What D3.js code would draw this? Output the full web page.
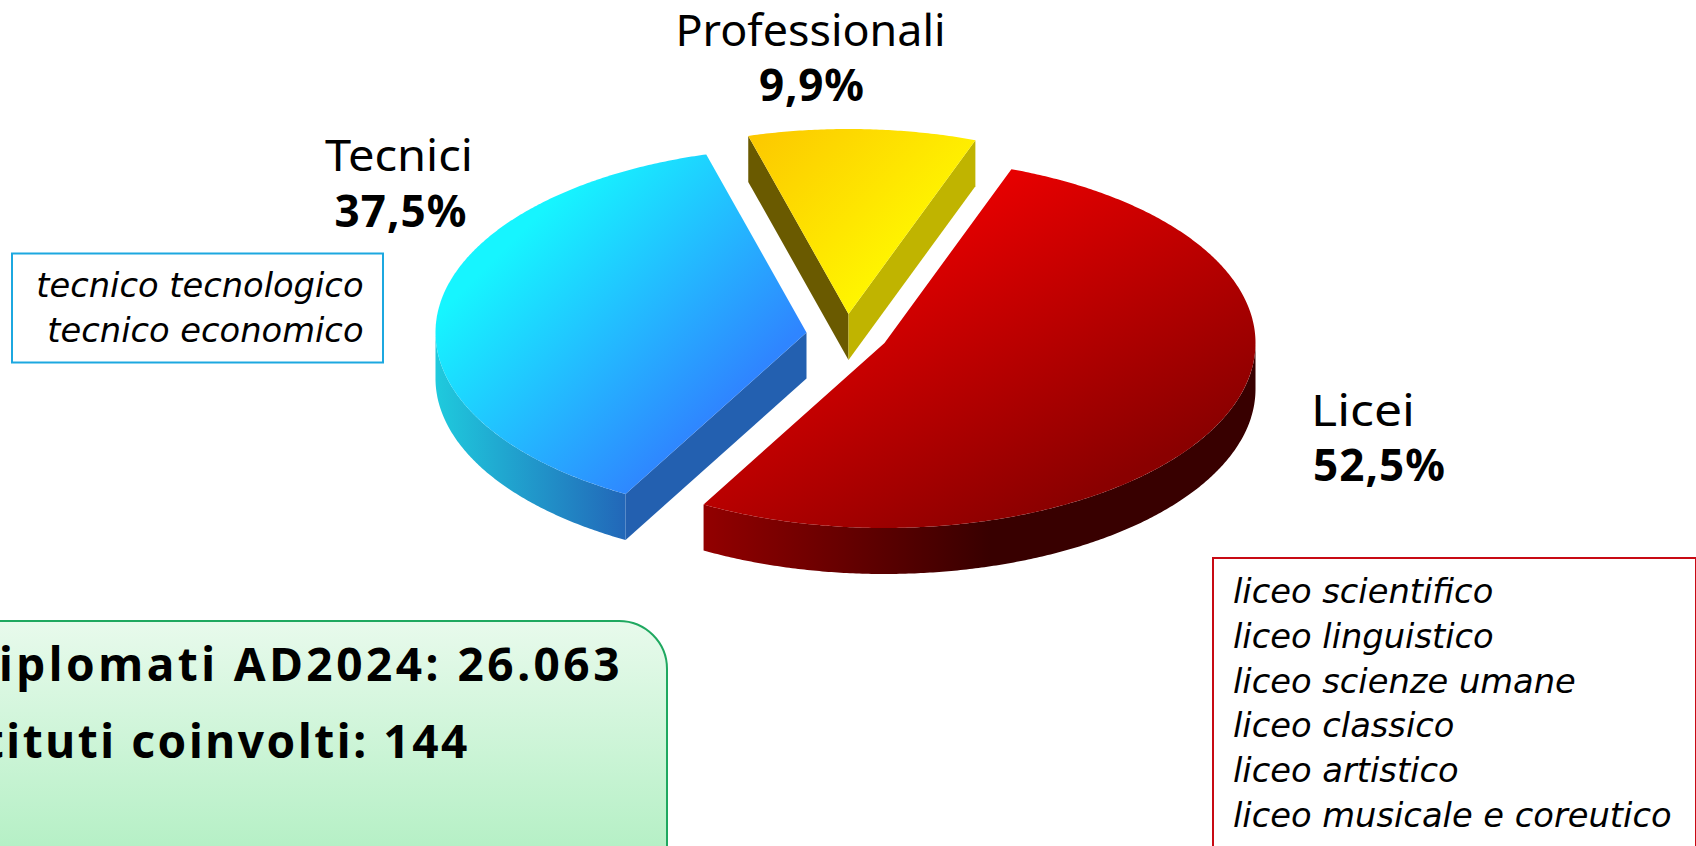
<!DOCTYPE html>
<html><head><meta charset="utf-8">
<script src="https://cdn.jsdelivr.net/npm/d3@7/dist/d3.min.js"></script>
<style>html,body{margin:0;padding:0;background:#fff;overflow:hidden}svg{display:block}</style>
</head><body><svg id="c" width="1696" height="846"></svg>
<script>
const categories = ["Licei","Tecnici","Professionali"];
const shares = [52.5,37.5,9.9];
const shareLabels = ["52,5%","37,5%","9,9%"];
const tecnicoItems = ["tecnico tecnologico","tecnico economico"];
const liceoItems = ["liceo scientifico","liceo linguistico","liceo scienze umane","liceo classico","liceo artistico","liceo musicale e coreutico"];
const infoLines = ["Diplomati AD2024: 26.063","Istituti coinvolti: 144"];

const svg = d3.select("#c");
const defs = svg.append("defs");
const FONT = "'Noto Sans','Open Sans',sans-serif";
const ITAL = "'DejaVu Sans','Noto Sans',sans-serif";

function grad(id, p, stops){
  const g = defs.append("linearGradient").attr("id",id).attr("gradientUnits","userSpaceOnUse")
    .attr("x1",p[0]).attr("y1",p[1]).attr("x2",p[2]).attr("y2",p[3]);
  stops.forEach(s=>g.append("stop").attr("offset",s[0]).attr("stop-color",s[1]));
}
grad("topR",[900,200,1055,510],[[0,"#ee0000"],[1,"#8a0000"]]);
grad("topB",[450,270,655,475],[[0.08,"#16f5ff"],[1,"#2f85ff"]]);
grad("topY",[750,136,890,275],[[0,"#fcc800"],[1,"#fff600"]]);
grad("sideR",[705,0,990,0],[[0,"#920000"],[1,"#380000"]]);
grad("sideB",[436,0,627,0],[[0,"#1fcadd"],[1,"#2266b8"]]);
grad("boxG",[0,621,0,846],[[0,"#e8faec"],[1,"#b6f0c6"]]);

// layout of the exploded pie
const rx = 371, ry = 185, depth = 46;
const centres = [[884.5,343],[806.5,332.5],[848.5,314]];
const topFill = ["url(#topR)","url(#topB)","url(#topY)"];
const sideFill = ["url(#sideR)","url(#sideB)",null];

const pie = d3.pie().sort(null).startAngle(20*Math.PI/180).endAngle(380*Math.PI/180);
const arcs = pie(shares);
const line = d3.line();
const pt = (c,a,dy=0)=>[c[0]+rx*Math.sin(a), c[1]-ry*Math.cos(a)+dy];
const sample = (a0,a1)=>{const n=Math.max(2,Math.ceil((a1-a0)*120));return d3.range(n+1).map(i=>a0+(a1-a0)*i/n);};

// walls seen from the front: [at slice start, at slice end]
const walls = [[null,null],["#2360b0",null],["#6a5a00","#c0b400"]];

[2,1,0].forEach(i=>{
  const d = arcs[i], c = centres[i], a0=d.startAngle, a1=d.endAngle;
  const wall = (a,fill)=>{ if(!fill) return;
    svg.append("path").attr("fill",fill)
      .attr("d",line([c,pt(c,a),pt(c,a,depth),[c[0],c[1]+depth]])+"Z");
  };
  wall(a0,walls[i][0]);
  wall(a1,walls[i][1]);
  // outer rim (only the front half of the ellipse shows)
  const lo=Math.max(a0,Math.PI/2), hi=Math.min(a1,3*Math.PI/2);
  if(sideFill[i] && hi>lo){
    const as=sample(lo,hi);
    const pts=as.map(a=>pt(c,a)).concat(as.slice().reverse().map(a=>pt(c,a,depth)));
    svg.append("path").attr("fill",sideFill[i]).attr("d",line(pts)+"Z");
  }
  // top face
  const pts=[c].concat(sample(a0,a1).map(a=>pt(c,a)));
  svg.append("path").attr("fill",topFill[i]).attr("d",line(pts)+"Z");
});

// category labels
const labelPos = [[1311,426,481,"start",1313],[399,171,227,"middle",400.5],[810.5,46,101,"middle",811.5]];
const labelW = [[104,132],[148,132],[270,105]];
categories.forEach((name,i)=>{
  const p=labelPos[i];
  svg.append("text").attr("x",p[0]).attr("y",p[1]).attr("text-anchor",p[3])
    .attr("font-family",FONT).attr("font-size",44).attr("fill","#000")
    .attr("textLength",labelW[i][0]).attr("lengthAdjust","spacingAndGlyphs").text(name);
  svg.append("text").attr("x",p[4]).attr("y",p[2]).attr("text-anchor",p[3])
    .attr("font-family",FONT).attr("font-weight",700).attr("font-size",44).attr("fill","#000")
    .attr("textLength",labelW[i][1]).attr("lengthAdjust","spacing").text(shareLabels[i]);
});

// blue box
svg.append("rect").attr("x",12).attr("y",253.5).attr("width",371).attr("height",109)
  .attr("fill","#fff").attr("stroke","#1ca8e0").attr("stroke-width",2);
svg.selectAll(".tec").data(tecnicoItems).join("text").attr("class","tec")
  .attr("x",363.5).attr("y",(d,i)=>297+i*45).attr("text-anchor","end")
  .attr("font-family",ITAL).attr("font-style","italic").attr("font-size",33.7).attr("fill","#000").text(d=>d);

// red box
svg.append("rect").attr("x",1213).attr("y",558).attr("width",483).attr("height",320)
  .attr("fill","#fff").attr("stroke","#c80a14").attr("stroke-width",2);
svg.selectAll(".lic").data(liceoItems).join("text").attr("class","lic")
  .attr("x",1233).attr("y",(d,i)=>603+i*44.8)
  .attr("font-family",ITAL).attr("font-style","italic").attr("font-size",33.7).attr("fill","#000").text(d=>d);

// green box
svg.append("rect").attr("x",-60).attr("y",621).attr("width",727).attr("height",300).attr("rx",48)
  .attr("fill","url(#boxG)").attr("stroke","#1fa860").attr("stroke-width",2);
svg.selectAll(".inf").data(infoLines).join("text").attr("class","inf")
  .attr("x",(d,i)=>[623,470][i]).attr("y",(d,i)=>[681,758][i]).attr("text-anchor","end")
  .attr("letter-spacing",(d,i)=>[3.5,2.6][i])
  .attr("font-family",FONT).attr("font-weight",700).attr("font-size",46).attr("fill","#000").text(d=>d);
</script></body></html>
